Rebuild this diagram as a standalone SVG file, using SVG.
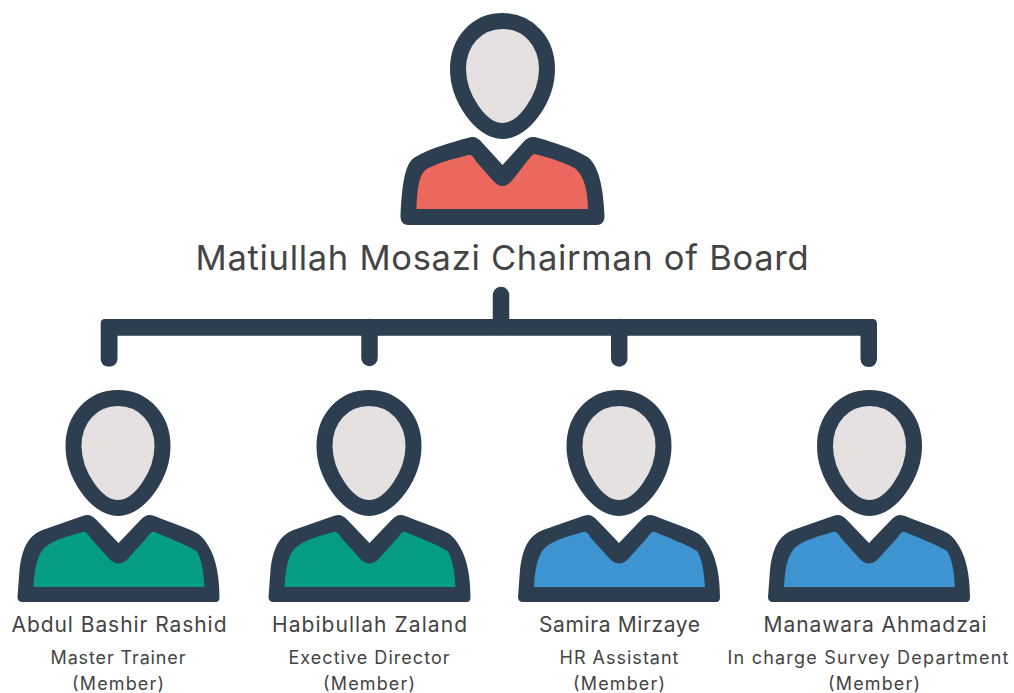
<svg xmlns="http://www.w3.org/2000/svg" width="1014" height="693" viewBox="0 0 1014 693">
<style>
.dark{fill:#2c3e50}
.face{fill:#e5e1e1;stroke:#2c3e50;stroke-width:16}
.link{fill:none;stroke:#2c3e50;stroke-width:16.5;stroke-linecap:round}
text{font-family:"Inter","Noto Sans",sans-serif;fill:#444444;text-anchor:middle}
.title{font-size:34.5px}
.name{font-size:21px}
.role{font-size:18px}
</style>
<defs>
<g id="head"><path class="face" d="M0,21 C26,21 44.5,42 44.5,69 C44.5,97 22,131 0,131 C-22,131 -44.5,97 -44.5,69 C-44.5,42 -26,21 0,21Z"/></g>
<path id="bodyTop" class="dark" d="M0,165 L-20,143 C-25,137 -29,136 -35,138 C-50,142 -72,148 -87,157 C-96,162 -100,176 -102,216 C-102,222 -99,225 -94,225 L94,225 C99,225 102,222 102,216 C101,190 97,166 85,157 C70,148 50,142 36,138 C29,136 25,137 20,143Z"/>
<path id="fillTop" d="M0,186 C-4,186 -7,183 -10,180 L-26,162 C-29,157 -31,154 -34,155 C-50,159 -62,162 -74,168 C-82,172 -85,182 -86,209 L85.500,209 C85,190 82,176 72,168 C60,162 48,158 32,154 C30,154 28,157 24,162 L10,180 C7,183 4,186 0,186Z"/>
<path id="bodyLow" class="dark" d="M0,543 L-22,520 C-27,515 -30,514 -36,516 L-76,530 C-88,535 -96,544 -99,570 L-101,597 C-101,600 -99,602 -96,602 L97,602 C100,602 101,600 101,597 C101,575 97,548 80,534 C70,528 50,522 36,516 C30,514 27,515 22,520Z"/>
<path id="fillLow" d="M0,563.500 C-4,563.500 -7,561 -10,558 L-28,538 C-31,533 -33,531 -36,532 C-50,536 -62,539 -72,546 C-80,552 -84,565 -85,587 L86,587 C85,572 83,558 78,551 C64,543 48,537 36,532 C33,531 31,534 28,538 L10,558 C7,561 4,563.500 0,563.500Z"/>
</defs>
<g id="connectors">
<path class="dark" d="M105,319 H872.500 Q877,319 877,324 V358 C877,364 873.500,367 869,367 C864,367 860.500,364 860.500,358 V335.700 H117.500 V358 C117.500,364 114,366.500 109,366.500 C104,366.500 100.700,364 100.700,358 V323 Q100.700,319 105,319Z"/>
<path class="link" d="M369.500,327 V358"/>
<path class="link" d="M619.200,327 V358.500"/>
<path class="link" d="M501,295 V327"/>
</g>
<g id="chairman">
<use href="#head" x="502.500"/>
<use href="#bodyTop" x="502.500"/>
<use href="#fillTop" x="502.500" fill="#ec685e"/>
<text class="title" x="502" y="270" textLength="613" lengthAdjust="spacing">Matiullah Mosazi Chairman of Board</text>
</g>
<g id="abdul">
<use href="#head" x="118" y="377"/>
<use href="#bodyLow" x="118.500"/>
<use href="#fillLow" x="118.500" fill="#049d84"/>
<text class="name" x="119" y="632" textLength="215" lengthAdjust="spacing">Abdul Bashir Rashid</text>
<text class="role" x="118" y="664" textLength="135" lengthAdjust="spacing">Master Trainer</text>
<text class="role" x="118" y="690" textLength="92" lengthAdjust="spacing">(Member)</text>
</g>
<g id="habibullah">
<use href="#head" x="369" y="377"/>
<use href="#bodyLow" x="369.500"/>
<use href="#fillLow" x="369.500" fill="#049d84"/>
<text class="name" x="369.500" y="632" textLength="195" lengthAdjust="spacing">Habibullah Zaland</text>
<text class="role" x="369" y="664" textLength="161" lengthAdjust="spacing">Exective Director</text>
<text class="role" x="369" y="690" textLength="92" lengthAdjust="spacing">(Member)</text>
</g>
<g id="samira">
<use href="#head" x="619" y="377"/>
<use href="#bodyLow" x="619"/>
<use href="#fillLow" x="619" fill="#3e94d1"/>
<text class="name" x="619.500" y="632" textLength="161" lengthAdjust="spacing">Samira Mirzaye</text>
<text class="role" x="619" y="664" textLength="119" lengthAdjust="spacing">HR Assistant</text>
<text class="role" x="619" y="690" textLength="92" lengthAdjust="spacing">(Member)</text>
</g>
<g id="manawara">
<use href="#head" x="869.500" y="377"/>
<use href="#bodyLow" x="869"/>
<use href="#fillLow" x="869" fill="#3e94d1"/>
<text class="name" x="875" y="632" textLength="223" lengthAdjust="spacing">Manawara Ahmadzai</text>
<text class="role" x="868" y="664" textLength="281" lengthAdjust="spacing">In charge Survey Department</text>
<text class="role" x="874" y="690" textLength="92" lengthAdjust="spacing">(Member)</text>
</g>
</svg>
